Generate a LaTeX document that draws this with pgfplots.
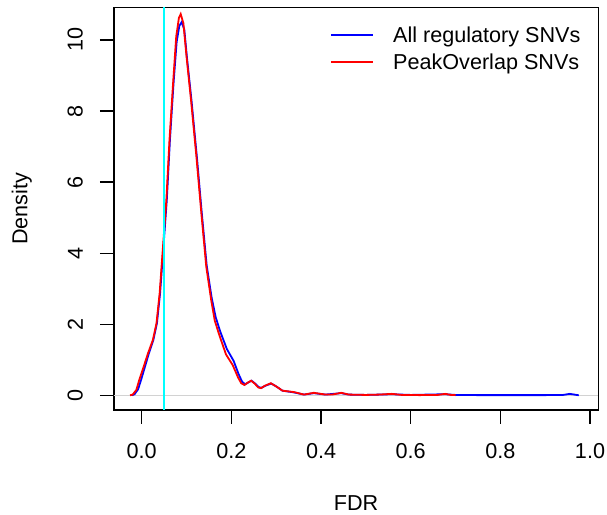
\documentclass[border=0pt]{standalone}
\usepackage{fontspec}
\setmainfont{Liberation Sans}
\usepackage{pgfplots}
\pgfplotsset{compat=1.18}
\definecolor{rblue}{RGB}{0,0,255}
\definecolor{rred}{RGB}{255,0,0}
\definecolor{rcyan}{RGB}{0,255,255}

\begin{document}
\begin{tikzpicture}[font=\fontsize{21.6bp}{26bp}\selectfont]
\useasboundingbox (0,0) rectangle (607bp,515bp);
\begin{axis}[
    at={(114bp,105bp)}, anchor=south west,
    scale only axis, width=484.3bp, height=402.7bp,
    xmin=-0.0618, xmax=1.0185, ymin=-0.414, ymax=10.92,
    axis line style={line width=1.3bp},
    xtick={0,0.2,0.4,0.6,0.8,1},
    xticklabels={0.0,0.2,0.4,0.6,0.8,1.0},
    ytick={0,2,4,6,8,10},
    xtick pos=bottom, ytick pos=left,
    tick align=outside, major tick length=14bp,
    tick style={black, line width=1.3bp},
    /pgf/number format/assume math mode=true,
    xticklabel style={anchor=north, inner sep=0pt, yshift=-19bp},
    yticklabel style={xshift=-17bp, rotate=90, anchor=south, inner sep=0pt},
    xlabel={FDR}, ylabel={Density},
    xlabel style={at={(axis description cs:0.5,-0.232)}, anchor=center, inner sep=0pt},
    ylabel style={at={(axis description cs:-0.1906,0.5)}, anchor=center, rotate=0, inner sep=0pt},
    legend style={draw=none, fill=none, inner sep=0pt,
        at={(axis description cs:0.446,0.9518)}, anchor=north west,
        nodes={inner sep=0pt, text height=15.5bp, text depth=0pt},
        row sep=11.5bp,
        /tikz/every odd column/.append style={column sep=19bp}},
    legend cell align=left,
    legend image code/.code={\draw[#1] (0bp,0bp) -- (42bp,0bp);},
]
% legend entries
\addlegendimage{rblue, line width=2bp}
\addlegendentry{All regulatory SNVs}
\addlegendimage{rred, line width=2bp}
\addlegendentry{PeakOverlap SNVs}

% zero line
\addplot[gray!35, line width=0.8bp, forget plot] coordinates {(-0.0618,0) (1.0185,0)};

% All regulatory SNVs
\addplot[rblue, line width=1.8bp, forget plot] coordinates {
(-0.022,0.0) (-0.016,0.03) (-0.008,0.17) (-0.001,0.45) (0.006,0.75) (0.016,1.18)
(0.026,1.56) (0.034,2.03) (0.041,2.87) (0.048,4.09) (0.056,5.5) (0.063,7.19)
(0.071,8.78) (0.078,9.95) (0.084,10.4) (0.089,10.5) (0.095,10.3) (0.101,9.5)
(0.111,8.31) (0.123,6.72) (0.134,5.13) (0.145,3.65) (0.156,2.75) (0.165,2.2)
(0.175,1.8) (0.19,1.3) (0.205,0.97) (0.216,0.6) (0.224,0.38) (0.231,0.31)
(0.239,0.37) (0.245,0.41) (0.253,0.33) (0.261,0.23) (0.267,0.21) (0.276,0.27)
(0.289,0.33) (0.3,0.25) (0.314,0.13) (0.34,0.08) (0.362,0.02) (0.384,0.06)
(0.41,0.02) (0.445,0.06) (0.462,0.02) (0.5,0.01) (0.53,0.02) (0.558,0.03)
(0.6,0.01) (0.677,0.03) (0.7,0.01) (0.75,0.005) (0.8,0.004) (0.85,0.004)
(0.9,0.005) (0.94,0.01) (0.955,0.04) (0.965,0.02) (0.975,0.0)
};

% PeakOverlap SNVs
\addplot[rred, line width=1.8bp, forget plot] coordinates {
(-0.026,0.0) (-0.02,0.02) (-0.012,0.15) (-0.005,0.45) (0.003,0.75) (0.014,1.18)
(0.025,1.56) (0.033,2.03) (0.04,2.87) (0.047,4.09) (0.055,5.5) (0.062,7.19)
(0.07,8.78) (0.077,10.1) (0.083,10.62) (0.087,10.73) (0.093,10.47) (0.1,9.53)
(0.11,8.31) (0.122,6.72) (0.133,5.13) (0.144,3.62) (0.155,2.68) (0.163,2.1)
(0.173,1.7) (0.188,1.15) (0.203,0.85) (0.215,0.5) (0.222,0.34) (0.229,0.29)
(0.237,0.36) (0.244,0.41) (0.252,0.33) (0.26,0.22) (0.266,0.2) (0.275,0.27)
(0.288,0.34) (0.3,0.25) (0.314,0.13) (0.34,0.09) (0.362,0.02) (0.384,0.07)
(0.41,0.02) (0.425,0.02) (0.445,0.07) (0.462,0.02) (0.5,0.01) (0.53,0.02)
(0.558,0.04) (0.58,0.01) (0.62,0.005) (0.66,0.01) (0.677,0.04) (0.69,0.01)
(0.70,0.005)
};

% FDR = 0.05
\addplot[rcyan, line width=1.6bp, forget plot] coordinates {(0.05,-0.414) (0.05,10.92)};
\end{axis}
\end{tikzpicture}
\end{document}
